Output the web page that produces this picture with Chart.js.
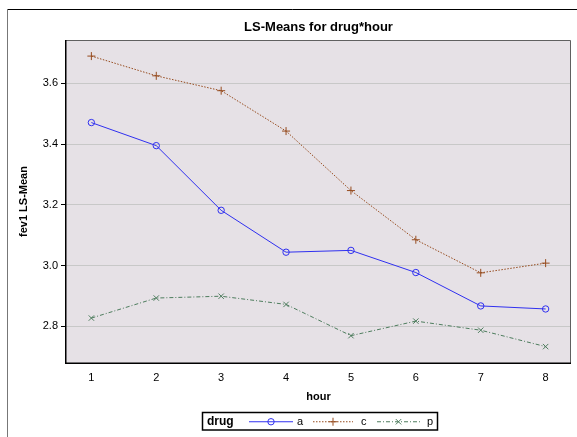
<!DOCTYPE html>
<html>
<head>
<meta charset="utf-8">
<script src="https://cdn.jsdelivr.net/npm/chart.js@4/dist/chart.umd.min.js"></script>
<style>
html,body{margin:0;padding:0;background:#fff;}
#wrap{position:relative;width:577px;height:437px;}
</style>
</head>
<body>
<div id="wrap"><canvas id="c" width="577" height="437"></canvas></div>
<script>
const hours = [1, 2, 3, 4, 5, 6, 7, 8];
const drugs = ['a', 'c', 'p'];
const drugA = [3.471, 3.395, 3.182, 3.044, 3.050, 2.977, 2.867, 2.857];
const drugC = [3.690, 3.625, 3.576, 3.443, 3.247, 3.085, 2.976, 3.008];
const drugP = [2.827, 2.893, 2.899, 2.872, 2.769, 2.817, 2.787, 2.733];
const yTicks = [2.8, 3.0, 3.2, 3.4, 3.6];
const titleText = 'LS-Means for drug*hour';
const xTitle = 'hour';
const yTitle = 'fev1 LS-Mean';
const legendTitle = 'drug';

const FONT = '"Liberation Sans", Arial, sans-serif';
const colors = { a: '#3030F0', c: '#964B1E', p: '#4E7D5E' };

function pts(vals) { return vals.map((v, i) => ({ x: hours[i], y: v })); }

const styles = {
  a: { dash: [], pointStyle: 'circle', radius: 3.2 },
  c: { dash: [1.5, 1.5], pointStyle: 'cross', radius: 4 },
  p: { dash: [4, 2, 1, 2], pointStyle: 'crossRot', radius: 3.8 }
};
const series = { a: drugA, c: drugC, p: drugP };

const datasets = drugs.map(d => ({
  label: d,
  data: pts(series[d]),
  borderColor: colors[d],
  backgroundColor: 'rgba(0,0,0,0)',
  borderWidth: 1,
  borderDash: styles[d].dash,
  pointStyle: styles[d].pointStyle,
  pointRadius: styles[d].radius,
  pointBorderColor: colors[d],
  pointBackgroundColor: 'rgba(0,0,0,0)',
  pointBorderWidth: 1,
  tension: 0
}));

const decor = {
  id: 'decor',
  beforeDraw(chart) {
    const { ctx, chartArea: a } = chart;
    ctx.save();
    ctx.fillStyle = '#E6E1E6';
    ctx.fillRect(a.left, a.top, a.right - a.left, a.bottom - a.top);
    // outer frame
    ctx.strokeStyle = '#000';
    ctx.lineWidth = 1;
    ctx.beginPath();
    ctx.moveTo(7.5, 9.5); ctx.lineTo(577, 9.5);
    ctx.stroke();
    ctx.strokeStyle = '#777';
    ctx.beginPath(); ctx.moveTo(7.5, 9); ctx.lineTo(7.5, 437); ctx.stroke();
    // title
    ctx.fillStyle = '#000';
    ctx.font = 'bold 13px ' + FONT;
    ctx.textAlign = 'center';
    ctx.textBaseline = 'middle';
    ctx.fillText(titleText, (a.left + a.right) / 2, 27.5);
    ctx.restore();
  },
  afterDraw(chart) {
    const { ctx, chartArea: a } = chart;
    ctx.save();
    // plot border
    ctx.lineWidth = 1;
    ctx.strokeStyle = '#606060';
    ctx.beginPath();
    ctx.moveTo(a.left, a.top + 0.5); ctx.lineTo(a.right - 0.5, a.top + 0.5); ctx.lineTo(a.right - 0.5, a.bottom);
    ctx.stroke();
    ctx.strokeStyle = '#000';
    ctx.lineWidth = 1.5;
    ctx.beginPath();
    ctx.moveTo(a.left - 0.25, a.top); ctx.lineTo(a.left - 0.25, a.bottom + 0.25); ctx.lineTo(a.right, a.bottom + 0.25);
    ctx.stroke();
    // legend
    const bx = 202.5, by = 412.5, bw = 235, bh = 17.5;
    ctx.lineWidth = 1.5;
    ctx.strokeStyle = '#000';
    ctx.fillStyle = '#fff';
    ctx.fillRect(bx, by, bw, bh);
    ctx.strokeRect(bx, by, bw, bh);
    const cy = by + bh / 2;
    ctx.fillStyle = '#000';
    ctx.font = 'bold 12px ' + FONT;
    ctx.textAlign = 'left';
    ctx.textBaseline = 'middle';
    ctx.fillText(legendTitle, 207, cy + 0.5);
    const items = [
      { d: 'a', x0: 249, x1: 293, tx: 297 },
      { d: 'c', x0: 313, x1: 353, tx: 361 },
      { d: 'p', x0: 377, x1: 420, tx: 427 }
    ];
    items.forEach(it => {
      const ds = datasets[drugs.indexOf(it.d)];
      ctx.strokeStyle = ds.borderColor;
      ctx.lineWidth = 1;
      ctx.setLineDash(ds.borderDash);
      ctx.beginPath(); ctx.moveTo(it.x0, cy + 0.5); ctx.lineTo(it.x1, cy + 0.5); ctx.stroke();
      ctx.setLineDash([]);
      ctx.fillStyle = 'rgba(0,0,0,0)';
      Chart.helpers.drawPoint(ctx, {
        pointStyle: ds.pointStyle, radius: ds.pointRadius, borderWidth: 1, rotation: 0
      }, (it.x0 + it.x1) / 2, cy + 0.5);
      ctx.fillStyle = '#000';
      ctx.font = '11px ' + FONT;
      ctx.fillText(it.d, it.tx, cy + 0.5);
    });
    ctx.restore();
  }
};

new Chart(document.getElementById('c'), {
  type: 'line',
  data: { datasets },
  options: {
    responsive: false,
    animation: false,
    devicePixelRatio: 1,
    layout: { padding: { top: 40, left: 0, right: 6, bottom: 0 } },
    plugins: { legend: { display: false }, title: { display: false }, tooltip: { enabled: false } },
    scales: {
      x: {
        type: 'linear',
        min: 0.609, max: 8.391,
        afterBuildTicks(s) { s.ticks = hours.map(v => ({ value: v })); },
        afterFit(s) { s.height = 74; },
        grid: { display: false, drawOnChartArea: false, drawTicks: true, tickLength: 5, tickColor: '#000' },
        border: { display: false },
        ticks: {
          color: '#000', font: { family: FONT, size: 11 }, padding: 3, maxRotation: 0,
          callback: v => String(v)
        },
        title: {
          display: true, text: xTitle, color: '#000',
          font: { family: FONT, size: 11, weight: 'bold' },
          padding: { top: 0, bottom: 33 }
        }
      },
      y: {
        type: 'linear',
        min: 2.679, max: 3.743,
        afterBuildTicks(s) { s.ticks = yTicks.map(v => ({ value: v })); },
        afterFit(s) { s.width = 66; },
        grid: { color: '#C8C8C8', lineWidth: 1, drawTicks: true, tickLength: 5, tickColor: '#000' },
        border: { display: false },
        ticks: {
          color: '#000', font: { family: FONT, size: 11 }, padding: 3,
          callback: v => Number(v).toFixed(1)
        },
        title: {
          display: true, text: yTitle, color: '#000',
          font: { family: FONT, size: 11, weight: 'bold' },
          padding: { top: 17, bottom: 0 }
        }
      }
    }
  },
  plugins: [decor]
});
</script>
</body>
</html>
